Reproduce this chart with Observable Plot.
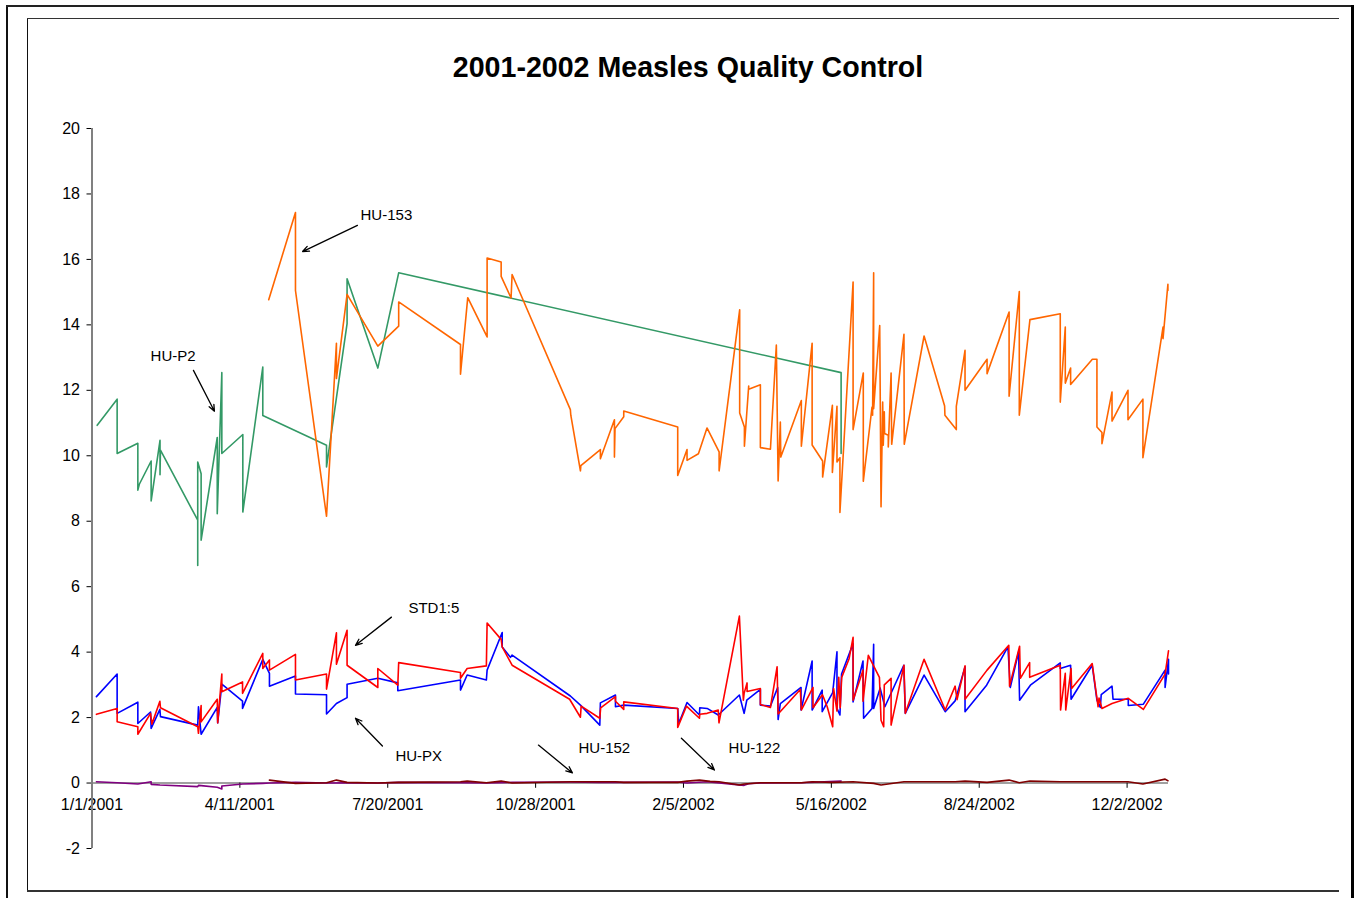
<!DOCTYPE html>
<html><head><meta charset="utf-8">
<script src="https://cdn.jsdelivr.net/npm/d3@7"></script>
<script src="https://cdn.jsdelivr.net/npm/@observablehq/plot@0.6"></script>
<style>
body{margin:0;background:#fff;font-family:Arial,"Liberation Sans",sans-serif;}
#wrap{position:relative;width:1357px;height:898px;overflow:hidden;background:#fff;}
#chart{position:absolute;left:0;top:0;}
#title{position:absolute;left:0;width:1376px;top:51px;text-align:center;font-weight:bold;font-size:28.6px;color:#000;}
.ln{position:absolute;background:#111;}
</style></head>
<body><div id="wrap">
<div id="chart"></div>
<div class="ln" style="left:6px;top:5px;width:2px;height:900px;"></div>
<div class="ln" style="left:6px;top:5px;width:1348px;height:2px;background:#222;"></div>
<div class="ln" style="left:1351px;top:5px;width:3px;height:900px;background:#000;"></div>
<div class="ln" style="left:27px;top:18px;width:1px;height:874px;"></div>
<div class="ln" style="left:27px;top:18px;width:1312px;height:1px;background:#333;"></div>
<div class="ln" style="left:27px;top:890px;width:1312px;height:2px;background:#333;"></div>
<div id="title">2001-2002 Measles Quality Control</div>
</div>
<script>
// Days counted from 1/1/2001
const hup2Days = [3.5,17,17,31,31,32,40,40,46,46,46.3,71.5,71.5,71.5,73.8,73.8,84.7,84.7,87.8,87.8,102,102,115.5,115.5,158.6,158.6,172.5,172.5,193.3,207.4,506.6,506.6];
const hup2Values = [10.93,11.73,10.07,10.38,8.95,9.13,9.84,8.62,10.47,9.42,10.17,8.03,6.65,9.81,9.45,7.42,10.56,8.23,12.54,10.07,10.65,8.28,12.71,11.23,10.32,9.66,14.04,15.41,12.68,15.59,12.54,10.07];

const hu153Days = [119.5,137.6,137.6,158.6,165.3,165.3,172.5,193.3,207.4,207.4,249.2,249.2,254.1,267.2,267.2,276.7,276.7,283.4,284.1,323.5,323.8,330.3,330.6,343.8,343.8,353.3,353.3,353.7,359.6,359.6,396.1,396.1,402.4,402.4,410.1,415.9,424.1,424.1,438,438,441.2,441.2,444.1,444.1,452,452,458.8,462.8,464,465.5,465.8,479.7,479.7,487,487,494.1,494.1,500.7,500.7,503.8,503.8,505.8,505.8,514.7,514.7,521.6,521.6,527.5,527.9,528.6,528.6,532.7,533.6,534.7,535.1,535.8,536,538.5,538.5,540.4,540.8,549.1,549.3,562.7,576.6,576.8,584.5,584.5,590.4,590.4,605.3,605.3,620.2,620.2,627.1,627.1,634.3,654.8,654.8,658.2,658.2,661.8,661.8,676.5,679.6,679.6,683,683,689.8,689.8,700.6,700.6,710.7,710.7,724.3,724.3,727.6,727.6];
const hu153Values = [14.77,17.43,15.05,8.15,13.44,12.36,14.93,13.35,13.96,14.70,13.40,12.49,14.83,13.63,16.04,15.92,15.48,14.82,15.54,11.41,11.24,9.54,9.70,10.19,9.91,11.10,9.96,10.83,11.19,11.37,10.88,9.40,10.19,9.86,10.06,10.85,10.12,9.54,14.46,11.31,10.88,10.29,12.13,12.03,12.17,10.25,10.20,13.38,9.23,11.03,9.96,11.69,10.29,13.44,10.33,9.84,9.35,11.54,9.49,11.51,9.81,9.94,8.27,15.31,10.80,12.53,9.22,11.49,11.24,15.59,11.44,13.98,8.44,11.64,10.32,11.34,10.68,10.63,10.27,12.53,10.35,13.71,10.35,13.66,11.52,11.24,10.80,11.51,13.22,12.00,12.95,12.51,14.39,11.82,15.02,11.24,14.16,14.34,11.64,13.93,12.22,12.68,12.18,12.95,12.95,10.88,10.71,10.37,11.95,11.06,12.00,11.10,11.73,9.94,13.93,13.58,15.24,15.05];

const hupxDays = [3,17,17,31,31,39.6,40,45.9,46.3,71.5,72,73.8,84.7,85,87.8,101.8,101.8,115.5,120,120,137.6,137.6,158.6,158.6,165.3,172.5,172.5,193.3,206.8,206.8,249.2,249.2,253.7,266.7,267.2,277.4,277.4,283,284.1,323.5,330.3,343.4,343.8,354,354,359.6,396.1,396.8,402.4,410.8,411,416,423.5,437.8,441,442.8,452,452,458.8,463.7,464,465.5,479.5,479.5,487,487,493.8,493.8,500.9,503.8,503.8,505.8,506.9,514.7,514.7,521.4,521.8,527.5,528.6,528.6,533,536.2,549,550,562.7,577,583.7,590.4,590.4,605,619.4,621,626.6,627.3,634.6,654.8,654.8,661.8,662.1,676.4,679.6,681.9,682.5,689.8,690.5,700.8,700.8,711,725.7,725.7,728,728];
const hupxValues = [2.64,3.33,2.13,2.47,1.82,2.17,1.67,2.25,2.03,1.77,2.33,1.49,2.31,1.84,3.02,2.50,2.28,3.78,3.35,2.96,3.27,2.72,2.70,2.11,2.43,2.61,3.02,3.20,3.06,2.82,3.15,2.84,3.30,3.15,3.45,4.60,4.16,3.84,3.91,2.66,2.38,1.77,2.45,2.69,2.33,2.38,2.28,1.82,2.46,2.08,2.30,2.28,2.08,2.69,2.13,2.53,2.86,2.38,2.35,2.92,1.94,2.43,2.92,2.23,3.73,2.23,2.84,2.18,2.76,4.01,2.28,2.08,3.33,4.26,2.48,3.73,1.98,2.28,4.24,2.28,2.90,2.33,3.60,2.13,3.30,2.18,2.51,3.55,2.18,2.99,4.16,2.92,4.01,2.53,2.99,3.67,3.50,3.60,2.56,3.60,2.53,2.31,2.70,2.96,2.56,2.56,2.37,2.41,3.45,2.92,3.78,3.33];

const std15Days = [3,17,17,31,31,39.6,40.5,45.9,46.3,71.5,72,73.8,73.8,84.7,85,87.8,87.8,101.8,101.8,115.5,115.5,120,120,137.6,137.6,158.6,158.6,165.3,165.3,172.5,172.5,193.3,193.3,206.8,207.4,249.2,249.2,253.7,266.7,267.2,276.7,277.4,284.1,323,330.3,330.8,343.4,344,354,354,359.6,359.6,396.1,396.1,402,410.8,411,416,423.5,424,437.8,440.5,441,443,443,452,452,458.8,463.3,464,479,479.7,487.6,487.6,494,497.2,500.9,501.5,503.8,505,506,507,512,514.7,514.7,521.4,521.4,525,532.5,533.6,535.4,535.8,540.4,540.4,549.1,550,562.7,577,583.7,585,590.4,590.4,605.3,620,620.5,627.3,627.8,634.1,634.1,654.8,655,658.2,658.5,662.1,662.5,676.4,680.4,681,683,689.8,700.8,711,725.7,728];
const std15Values = [2.10,2.28,1.87,1.72,1.49,2.13,1.80,2.50,2.30,1.72,1.52,2.37,1.87,2.56,1.84,3.33,2.79,3.09,2.74,3.96,3.50,3.76,3.45,3.93,3.15,3.33,2.87,4.59,3.63,4.67,3.60,2.92,3.50,2.99,3.68,3.38,3.20,3.50,3.58,4.89,4.39,4.16,3.60,2.56,2.01,2.35,1.98,2.30,2.64,2.50,2.25,2.48,2.28,1.70,2.35,1.98,2.10,2.13,2.23,1.84,5.10,2.53,2.74,3.06,2.80,2.89,2.40,2.31,3.55,2.11,2.86,2.23,2.92,2.30,2.70,2.33,1.72,2.89,2.20,3.23,2.30,3.23,3.80,4.45,2.53,3.45,2.50,3.90,3.23,1.92,1.72,3.00,3.20,1.77,3.60,2.13,3.78,2.23,2.96,2.55,3.58,2.56,3.45,4.21,2.96,4.18,3.20,3.68,3.23,3.60,2.23,3.35,2.23,3.50,2.89,3.65,2.33,2.60,2.28,2.43,2.59,2.25,3.33,4.04];

const hu152Days = [3,17,31,40,40,46,71.5,72,73.8,84.7,87.8,87.8,102,115.5,120,137.6,158.6,172.5,193.3,207.4,249,267,284,323.5,343,359.6,396,402.4,416,434,441,444,452,480,506.6];
const hu152Values = [0.04,0.01,-0.03,0.04,-0.04,-0.06,-0.11,-0.07,-0.08,-0.13,-0.18,-0.09,-0.03,-0.01,0.00,0.02,0.00,0.01,0.00,0.02,0.01,0.00,0.02,0.03,0.02,0.02,0.03,0.00,0.04,-0.04,-0.07,-0.02,0.00,0.01,0.06];

const hu122Days = [120,137.6,158.6,165.3,172.5,193.3,207.4,249.2,253.7,266.7,276.7,284.1,323.5,343.4,354,359.6,396.1,402.4,410.8,418,424.1,437.8,441.2,452,463.7,479.7,487,500.7,514.7,528.6,533.6,549.1,583.7,590.4,605.3,620.2,627.1,634.3,654.8,661.8,676.5,700.6,710.7,725.7,727.6];
const hu122Values = [0.09,-0.01,0.01,0.09,0.02,0.00,0.02,0.04,0.06,0.01,0.06,0.00,0.04,0.04,0.04,0.02,0.02,0.06,0.09,0.05,0.04,-0.06,-0.03,0.01,0.01,0.01,0.04,0.02,0.04,-0.01,-0.06,0.04,0.04,0.06,0.02,0.09,0.01,0.06,0.04,0.04,0.04,0.04,-0.03,0.12,0.07];

const yTicks = [-2,0,2,4,6,8,10,12,14,16,18,20];
const xTickDays = [0,100,200,300,400,500,600,700];
const xTickLabels = ["1/1/2001","4/11/2001","7/20/2001","10/28/2001","2/5/2002","5/16/2002","8/24/2002","12/2/2002"];

const noteLabels = ["HU-153","HU-P2","STD1:5","HU-PX","HU-152","HU-122"];
const noteTextDay = [181.6,39.6,214,205.2,329,430.5];
const noteTextValue = [17.34,13.04,5.34,0.82,1.07,1.07];
const arrowFromDay = [179.5,68.6,202.5,196.4,301.9,398.6];
const arrowFromValue = [17.04,12.61,5.07,1.13,1.16,1.37];
const arrowToDay = [142.4,82.8,178.2,178.2,324.9,420.9];
const arrowToValue = [16.24,11.36,4.21,1.98,0.31,0.40];

const t0 = Date.UTC(2001,0,1);
const toDate = d => new Date(t0 + d*864e5);
const rows = (days, vals) => days.map((d,i) => ({date: toDate(d), value: vals[i]}));

const series = [
  {data: rows(hup2Days, hup2Values), color: "#339966"},
  {data: rows(hu153Days, hu153Values), color: "#FF6600"},
  {data: rows(hupxDays, hupxValues), color: "#0000FF"},
  {data: rows(std15Days, std15Values), color: "#FF0000"},
  {data: rows(hu152Days, hu152Values), color: "#800080"},
  {data: rows(hu122Days, hu122Values), color: "#800000"}
];
const notes = noteLabels.map((t,i) => ({t, x: toDate(noteTextDay[i]), y: noteTextValue[i],
  x1: toDate(arrowFromDay[i]), y1: arrowFromValue[i], x2: toDate(arrowToDay[i]), y2: arrowToValue[i]}));

const chart = Plot.plot({
  width: 1357, height: 898,
  marginLeft: 91.5, marginRight: 189, marginTop: 128, marginBottom: 50,
  x: {type: "utc", domain: [toDate(0), toDate(728)], axis: null},
  y: {domain: [-2, 20], axis: null},
  style: {fontFamily: "Arial, 'Liberation Sans', sans-serif", fontSize: "16px", color: "#000", background: "transparent", overflow: "visible"},
  marks: [
    Plot.ruleY([0], {stroke: "#808080", strokeWidth: 1.5}),
    Plot.ruleX(xTickDays, {x: d => toDate(d), y1: 0, y2: -0.16, stroke: "#000", strokeWidth: 1}),
    Plot.text(xTickDays, {x: d => toDate(d), y: 0, dy: 22, text: (d,i) => xTickLabels[i], fontSize: 16, fill: "#000"}),
    Plot.axisY({ticks: yTicks, tickSize: 5, tickPadding: 7, anchor: "left", label: null, fontSize: 16, stroke: "#000", tickFormat: d => String(d).replace("−","-")}),
    Plot.ruleX([0], {x: () => toDate(0), y1: -2, y2: 20, stroke: "#808080", strokeWidth: 2}),
    ...series.map(s => Plot.lineY(s.data, {x: "date", y: "value", stroke: s.color, strokeWidth: 1.6, curve: "linear"})),
    Plot.arrow(notes, {x1: "x1", y1: "y1", x2: "x2", y2: "y2", stroke: "#000", strokeWidth: 1.3, headLength: 8, headAngle: 45}),
    Plot.text(notes, {x: "x", y: "y", text: "t", textAnchor: "start", fontSize: 15, fill: "#000"})
  ]
});
document.getElementById("chart").appendChild(chart);
</script>
</body></html>
